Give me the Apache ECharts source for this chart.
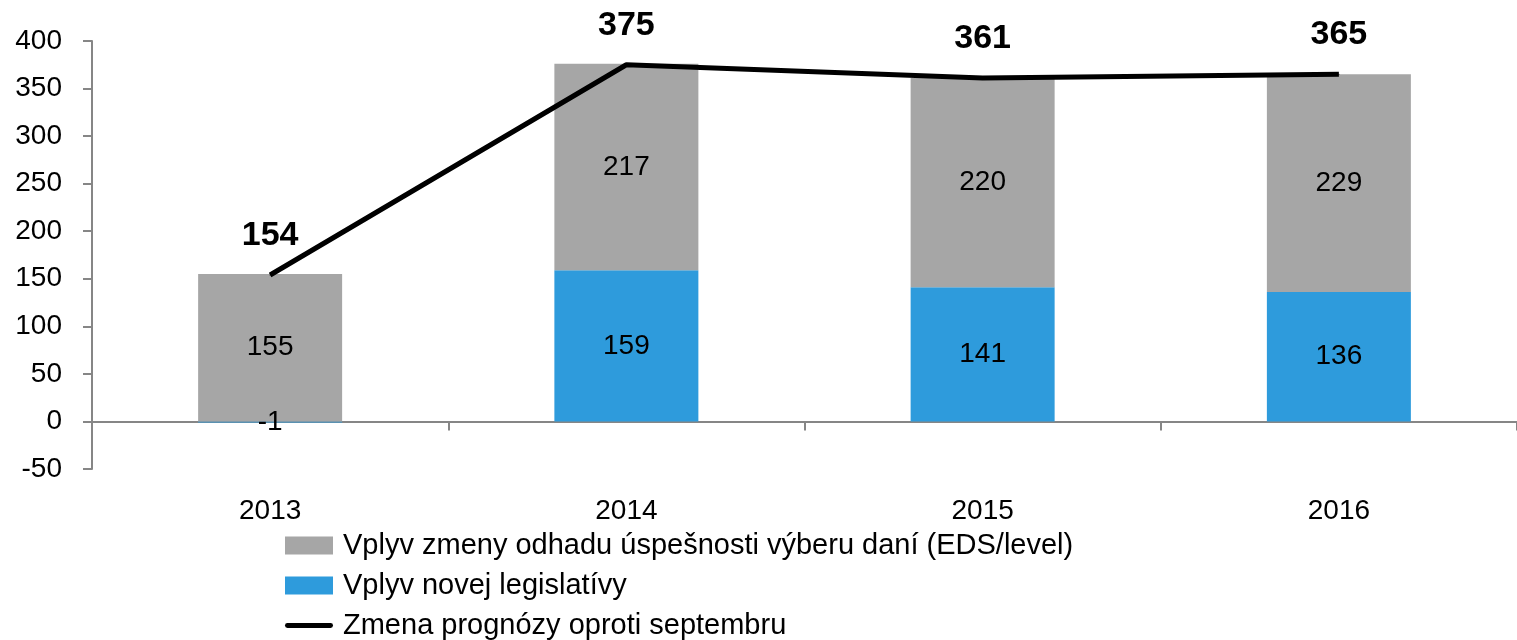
<!DOCTYPE html>
<html>
<head>
<meta charset="utf-8">
<script src="https://cdn.jsdelivr.net/npm/echarts@6/dist/echarts.min.js"></script>
<style>
  html, body { margin: 0; padding: 0; background: #fff; }
  #chart { width: 1517px; height: 640px; }
</style>
</head>
<body>
<div id="chart"></div>
<script>
// hodnoty odčítané z grafu
var years = ['2013', '2014', '2015', '2016'];
var legislativa = [-1, 159, 141, 136];
var eds = [155, 217, 220, 229];
var zmena = [154, 375, 361, 365];

var names = [
  'Vplyv zmeny odhadu úspešnosti výberu daní (EDS/level)',
  'Vplyv novej legislatívy',
  'Zmena prognózy oproti septembru'
];

var font = 'Liberation Sans';
var chart = echarts.init(document.getElementById('chart'));

var option = {
  animation: false,
  grid: { left: 92, top: 41, width: 1436, bottom: 171 },
  legend: {
    orient: 'vertical',
    left: 285,
    top: 531,
    height: 300,
    padding: 0,
    itemWidth: 48,
    itemHeight: 18,
    itemGap: 11,
    textStyle: { fontFamily: font, fontSize: 29, lineHeight: 24, color: '#000', padding: [0, 0, 0, 5] },
    data: [
      { name: names[0], icon: 'rect' },
      { name: names[1], icon: 'rect' },
      { name: names[2], icon: 'path://M2,0H46A2.5,2.5 0 0 1 46,5H2A2.5,2.5 0 0 1 2,0Z', itemStyle: { color: '#000' } }
    ]
  },
  xAxis: [
    {
      type: 'category',
      data: years,
      axisLine: { onZero: true, lineStyle: { color: '#868686', width: 2 } },
      axisTick: { show: true, length: 9, lineStyle: { color: '#868686', width: 2 } },
      axisLabel: { show: false }
    },
    {
      type: 'category',
      data: years,
      position: 'bottom',
      axisLine: { show: false, onZero: false },
      axisTick: { show: false },
      axisLabel: { fontFamily: font, fontSize: 28, color: '#000', margin: 28 }
    }
  ],
  yAxis: {
    type: 'value',
    min: -50,
    max: 400,
    interval: 50,
    splitLine: { show: false },
    axisLine: { show: true, lineStyle: { color: '#868686', width: 2 } },
    axisTick: { show: true, length: 9, lineStyle: { color: '#868686', width: 2 } },
    axisLabel: { fontFamily: font, fontSize: 28, color: '#000', margin: 30 }
  },
  series: [
    {
      name: names[1],
      type: 'bar',
      stack: 'spolu',
      barWidth: 144,
      data: legislativa,
      itemStyle: { color: '#2E9BDC' },
      label: { show: true, position: 'inside', fontFamily: font, fontSize: 28, color: '#000' }
    },
    {
      name: names[0],
      type: 'bar',
      stack: 'spolu',
      barWidth: 144,
      data: eds,
      itemStyle: { color: '#A6A6A6' },
      label: { show: true, position: 'inside', fontFamily: font, fontSize: 28, color: '#000' }
    },
    {
      name: names[2],
      type: 'line',
      data: zmena,
      symbol: 'circle',
      symbolSize: 1,
      z: 5,
      lineStyle: { color: '#000', width: 5 },
      itemStyle: { color: '#000' },
      label: {
        show: true, position: 'top', distance: 22,
        fontFamily: font, fontSize: 34, fontWeight: 'bold', color: '#000'
      }
    }
  ]
};

chart.setOption(option);
</script>
</body>
</html>
